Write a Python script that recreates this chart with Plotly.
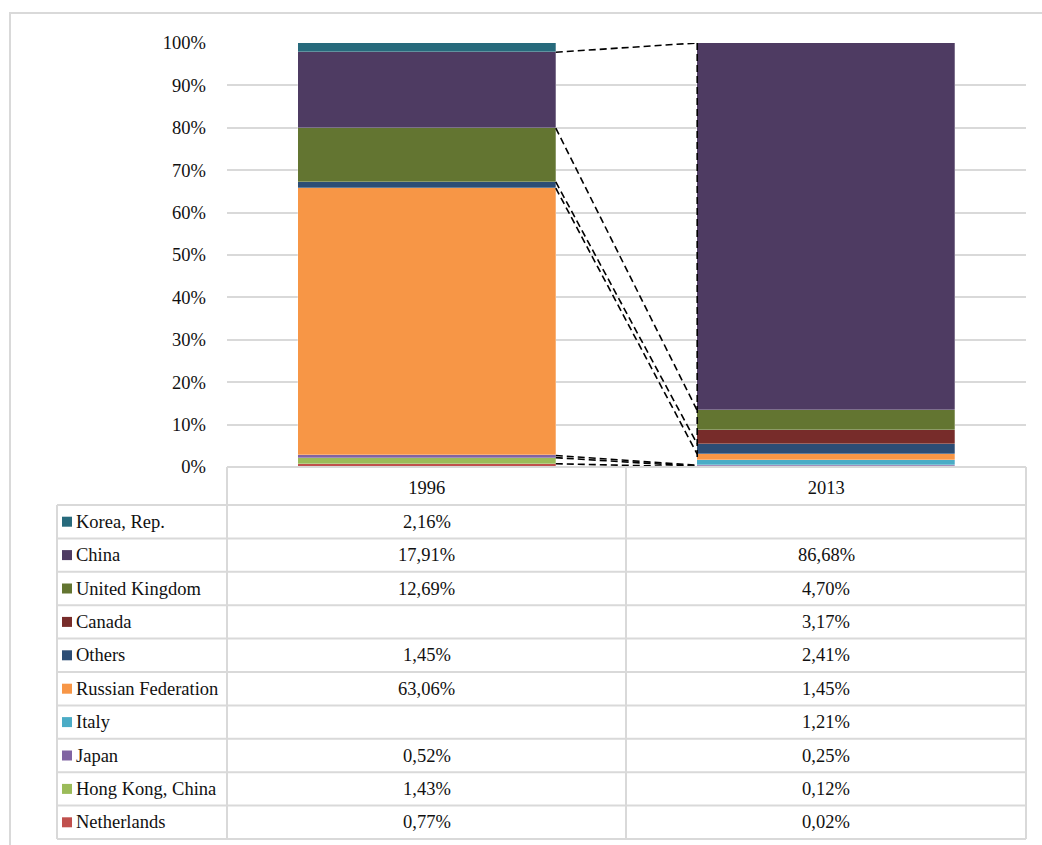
import plotly.graph_objects as go

# Share of each partner, percent (None = no entry)
years = ["1996", "2013"]
countries = ["Korea, Rep.", "China", "United Kingdom", "Canada", "Others",
             "Russian Federation", "Italy", "Japan", "Hong Kong, China", "Netherlands"]
share_1996 = [2.16, 17.91, 12.69, None, 1.45, 63.06, None, 0.52, 1.43, 0.77]
share_2013 = [None, 86.68, 4.70, 3.17, 2.41, 1.45, 1.21, 0.25, 0.12, 0.02]
colors = ["#276A7C", "#4E3B62", "#637531", "#772C2A", "#2C4D75",
          "#F79646", "#4BACC6", "#8064A2", "#9BBB59", "#C0504D"]

W, H = 1042, 845
FONT = "Liberation Serif"
GRID = "#D9D9D9"
BAR_W = 0.646

def px(x):
    return x / W

def py(y):
    return 1 - y / H

fig = go.Figure()

# stacked columns, bottom series first
order = list(range(len(countries)))[::-1]
for i in order:
    vals = [share_1996[i], share_2013[i]]
    fig.add_trace(go.Bar(
        x=[0, 1], y=[None if v is None else v / 100 for v in vals],
        name=countries[i], width=BAR_W,
        marker=dict(color=colors[i], line=dict(color="rgba(255,255,255,0.45)", width=0.6)),
        showlegend=False, hoverinfo="skip"))

# cumulative tops for the series lines
def cumulative(vals):
    tops, run = {}, 0.0
    for i in order:
        v = vals[i]
        if v is not None:
            run += v
            tops[i] = run
    return tops

top96 = cumulative(share_1996)
top13 = cumulative(share_2013)
x_left, x_right = 0 + BAR_W / 2, 1 - BAR_W / 2
dash_line = dict(color="black", width=1.6, dash="7px,4px")
for i in order:
    if i in top96 and i in top13:
        fig.add_trace(go.Scatter(
            x=[x_left, x_right], y=[top96[i] / 100, top13[i] / 100], mode="lines",
            line=dash_line, showlegend=False, hoverinfo="skip"))
# drop line along the 2013 column edge
fig.add_trace(go.Scatter(
    x=[x_right, x_right], y=[top13[1] / 100, top13[6] / 100], mode="lines",
    line=dash_line, showlegend=False, hoverinfo="skip"))

# data table under the plot
tab_l, col1, col2, tab_r = 57, 227, 626, 1026
head_top, head_bot, row_h = 467, 505, 33.4
n = len(countries)
tab_bot = head_bot + n * row_h
shapes = []
line_style = dict(color=GRID, width=2)
shapes.append(dict(type="line", xref="paper", yref="paper", x0=px(col1), x1=px(tab_r),
                   y0=py(head_top), y1=py(head_top), line=line_style))
for k in range(n + 1):
    yk = head_bot + k * row_h
    shapes.append(dict(type="line", xref="paper", yref="paper", x0=px(tab_l), x1=px(tab_r),
                       y0=py(yk), y1=py(yk), line=line_style))
for xv in (col1, col2, tab_r):
    shapes.append(dict(type="line", xref="paper", yref="paper", x0=px(xv), x1=px(xv),
                       y0=py(head_top), y1=py(tab_bot), line=line_style))
shapes.append(dict(type="line", xref="paper", yref="paper", x0=px(tab_l), x1=px(tab_l),
                   y0=py(head_bot), y1=py(tab_bot), line=line_style))
# outer frame
shapes.append(dict(type="rect", xref="paper", yref="paper", x0=px(10), x1=px(1050),
                   y0=py(860), y1=py(13), line=line_style, layer="below"))

annotations = []
def fmt(v):
    return "" if v is None else f"{v:.2f}".replace(".", ",") + "%"

for k, name in enumerate(countries):
    yc = head_bot + (k + 0.5) * row_h
    shapes.append(dict(type="rect", xref="paper", yref="paper", x0=px(62), x1=px(72),
                       y0=py(yc + 5), y1=py(yc - 5), fillcolor=colors[k], line=dict(width=0)))
    annotations.append(dict(x=px(74), y=py(yc), xref="paper", yref="paper", text=name,
                            xanchor="left", yanchor="middle", showarrow=False))
    for col_c, vals in (((col1 + col2) / 2, share_1996), ((col2 + tab_r) / 2, share_2013)):
        txt = fmt(vals[k])
        if txt:
            annotations.append(dict(x=px(col_c), y=py(yc), xref="paper", yref="paper",
                                    text=txt, xanchor="center", yanchor="middle",
                                    showarrow=False))

fig.update_layout(
    template="none",
    width=W, height=H, margin=dict(l=0, r=0, t=0, b=0, pad=0, autoexpand=False),
    paper_bgcolor="white", plot_bgcolor="white",
    barmode="stack", bargap=0,
    font=dict(family=FONT, size=18.5, color="#111111"),
    xaxis=dict(domain=[px(col1), px(tab_r)], range=[-0.5, 1.5], automargin=False,
               tickvals=[0, 1], ticktext=years, showgrid=False, zeroline=False,
               showline=False, ticks="", ticklabelstandoff=7, fixedrange=True),
    yaxis=dict(domain=[py(head_top), py(43)], range=[0, 1], dtick=0.1, tickformat=".0%",
               automargin=False, showgrid=True, gridcolor=GRID, gridwidth=1.5,
               zeroline=False, showline=False, ticks="", ticklabelstandoff=20,
               fixedrange=True),
    shapes=shapes, annotations=annotations,
)

fig.write_html("out.html")
